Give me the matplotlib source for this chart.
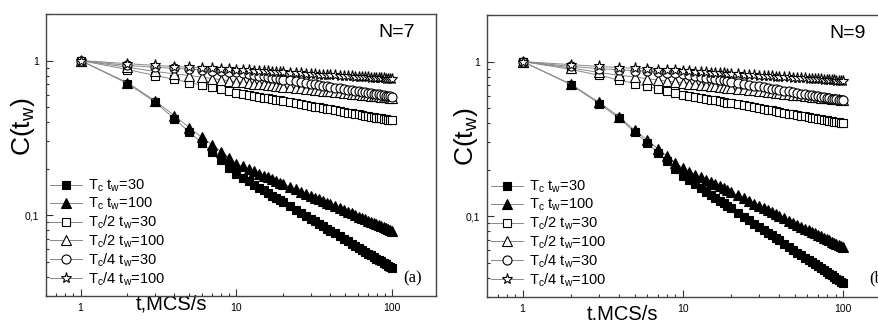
import matplotlib
matplotlib.use("Agg")
import matplotlib.pyplot as plt
from matplotlib.ticker import FixedLocator, FixedFormatter, LogLocator, NullFormatter

plt.rcParams['font.family'] = ['Liberation Sans', 'DejaVu Sans']
plt.rcParams['mathtext.default'] = 'regular'

# time points (MCS/s)
t = [1, 2, 3, 4, 5, 6, 7, 8, 9, 10, 11, 12, 13, 14, 15, 16, 17, 18, 19, 20,
     22, 24, 26, 28, 30, 32, 34, 36, 38, 40,
     43, 46, 49, 52, 55, 58, 61, 64, 67, 70, 73, 76, 79, 82, 85, 88, 91, 94, 97, 100]

# ---- N=7 ----
n7_tc_30 = [1, 0.71, 0.54, 0.42, 0.345, 0.293, 0.255, 0.226, 0.203, 0.185,
            0.1747, 0.1656, 0.1576, 0.1507, 0.1445, 0.1389, 0.1339, 0.1293, 0.1250, 0.1212,
            0.1144, 0.1085, 0.1032, 0.0987, 0.0947, 0.0910, 0.0877, 0.0847, 0.0819, 0.0794,
            0.0761, 0.0729, 0.0702, 0.0677, 0.0654, 0.0634, 0.0614, 0.0596, 0.0580, 0.0564,
            0.0550, 0.0537, 0.0524, 0.0513, 0.0502, 0.0491, 0.0481, 0.0472, 0.0462, 0.0454]
n7_tc_100 = [1, 0.72, 0.55, 0.44, 0.368, 0.318, 0.285, 0.258, 0.235, 0.215,
             0.2064, 0.1987, 0.1918, 0.1858, 0.1802, 0.1753, 0.1707, 0.1666, 0.1626, 0.1591,
             0.1527, 0.1469, 0.1419, 0.1374, 0.1333, 0.1297, 0.1264, 0.1232, 0.1202, 0.1176,
             0.1140, 0.1107, 0.1077, 0.1049, 0.1026, 0.1002, 0.0980, 0.0959, 0.0940, 0.0922,
             0.0905, 0.0890, 0.0875, 0.0860, 0.0847, 0.0836, 0.0823, 0.0811, 0.0800, 0.0789]
n7_tc2_30 = [1, 0.875, 0.80, 0.755, 0.72, 0.695, 0.672, 0.652, 0.635, 0.62,
             0.609, 0.600, 0.592, 0.584, 0.576, 0.570, 0.564, 0.558, 0.552, 0.547,
             0.538, 0.530, 0.522, 0.515, 0.509, 0.503, 0.497, 0.492, 0.487, 0.483,
             0.477, 0.471, 0.466, 0.461, 0.456, 0.452, 0.448, 0.444, 0.440, 0.437,
             0.434, 0.430, 0.427, 0.425, 0.422, 0.419, 0.417, 0.414, 0.412, 0.410]
n7_tc2_100 = [1, 0.905, 0.85, 0.82, 0.80, 0.78, 0.765, 0.752, 0.74, 0.73,
              0.723, 0.716, 0.710, 0.705, 0.700, 0.695, 0.691, 0.687, 0.683, 0.679,
              0.672, 0.666, 0.661, 0.656, 0.651, 0.647, 0.643, 0.639, 0.635, 0.632,
              0.628, 0.623, 0.619, 0.615, 0.611, 0.608, 0.605, 0.602, 0.599, 0.596,
              0.594, 0.591, 0.589, 0.586, 0.584, 0.582, 0.580, 0.578, 0.576, 0.575]
n7_tc4_30 = [1, 0.93, 0.905, 0.89, 0.88, 0.87, 0.862, 0.855, 0.848, 0.842,
             0.829, 0.818, 0.808, 0.798, 0.790, 0.782, 0.775, 0.767, 0.761, 0.754,
             0.744, 0.733, 0.724, 0.716, 0.708, 0.701, 0.694, 0.688, 0.682, 0.676,
             0.669, 0.662, 0.655, 0.649, 0.643, 0.638, 0.633, 0.628, 0.624, 0.619,
             0.615, 0.611, 0.607, 0.604, 0.600, 0.597, 0.594, 0.591, 0.588, 0.585]
n7_tc4_100 = [1, 0.955, 0.93, 0.915, 0.905, 0.897, 0.89, 0.884, 0.879, 0.875,
              0.870, 0.865, 0.861, 0.857, 0.854, 0.850, 0.847, 0.844, 0.841, 0.839,
              0.834, 0.829, 0.825, 0.822, 0.818, 0.815, 0.812, 0.809, 0.807, 0.804,
              0.801, 0.797, 0.794, 0.791, 0.789, 0.786, 0.784, 0.781, 0.779, 0.777,
              0.775, 0.773, 0.771, 0.770, 0.768, 0.766, 0.765, 0.763, 0.762, 0.760]

# ---- N=9 ----
n9_tc_30 = [1, 0.71, 0.535, 0.43, 0.35, 0.297, 0.258, 0.228, 0.203, 0.182,
            0.1706, 0.1605, 0.1518, 0.1442, 0.1375, 0.1315, 0.1261, 0.1212, 0.1167, 0.1127,
            0.1055, 0.0993, 0.0939, 0.0893, 0.0851, 0.0814, 0.0781, 0.0750, 0.0722, 0.0698,
            0.0664, 0.0633, 0.0606, 0.0582, 0.0560, 0.0539, 0.0521, 0.0504, 0.0488, 0.0474,
            0.0460, 0.0447, 0.0435, 0.0424, 0.0414, 0.0405, 0.0395, 0.0386, 0.0377, 0.0370]
n9_tc_100 = [1, 0.715, 0.545, 0.44, 0.36, 0.31, 0.272, 0.244, 0.222, 0.204,
             0.1944, 0.1859, 0.1785, 0.1718, 0.1659, 0.1606, 0.1557, 0.1512, 0.1470, 0.1433,
             0.1365, 0.1305, 0.1253, 0.1207, 0.1165, 0.1128, 0.1094, 0.1062, 0.1032, 0.1006,
             0.0970, 0.0937, 0.0907, 0.0880, 0.0855, 0.0832, 0.0811, 0.0792, 0.0773, 0.0757,
             0.0741, 0.0725, 0.0710, 0.0697, 0.0685, 0.0673, 0.0661, 0.0651, 0.0640, 0.0630]
n9_tc2_30 = [1, 0.89, 0.815, 0.76, 0.72, 0.69, 0.665, 0.645, 0.628, 0.612,
             0.601, 0.592, 0.583, 0.575, 0.568, 0.561, 0.555, 0.549, 0.543, 0.538,
             0.529, 0.521, 0.513, 0.506, 0.500, 0.494, 0.488, 0.483, 0.478, 0.474,
             0.467, 0.461, 0.456, 0.451, 0.447, 0.442, 0.438, 0.434, 0.430, 0.427,
             0.424, 0.420, 0.417, 0.415, 0.412, 0.409, 0.407, 0.405, 0.402, 0.400]
n9_tc2_100 = [1, 0.91, 0.85, 0.815, 0.795, 0.775, 0.76, 0.748, 0.737, 0.728,
              0.721, 0.714, 0.707, 0.702, 0.696, 0.691, 0.687, 0.682, 0.678, 0.675,
              0.668, 0.661, 0.655, 0.650, 0.645, 0.641, 0.636, 0.632, 0.629, 0.625,
              0.620, 0.616, 0.612, 0.607, 0.604, 0.600, 0.597, 0.594, 0.590, 0.588,
              0.585, 0.582, 0.580, 0.578, 0.575, 0.573, 0.571, 0.569, 0.567, 0.565]
n9_tc4_30 = [1, 0.93, 0.90, 0.885, 0.873, 0.864, 0.856, 0.848, 0.842, 0.836,
             0.822, 0.810, 0.798, 0.788, 0.779, 0.771, 0.762, 0.755, 0.748, 0.741,
             0.729, 0.718, 0.708, 0.699, 0.691, 0.683, 0.676, 0.669, 0.663, 0.657,
             0.649, 0.641, 0.634, 0.627, 0.621, 0.616, 0.610, 0.605, 0.600, 0.596,
             0.592, 0.588, 0.584, 0.580, 0.576, 0.573, 0.569, 0.566, 0.563, 0.560]
n9_tc4_100 = [1, 0.955, 0.93, 0.915, 0.904, 0.895, 0.888, 0.882, 0.877, 0.872,
              0.867, 0.862, 0.857, 0.853, 0.849, 0.846, 0.842, 0.839, 0.836, 0.833,
              0.828, 0.823, 0.819, 0.815, 0.812, 0.808, 0.805, 0.802, 0.799, 0.796,
              0.793, 0.789, 0.786, 0.783, 0.780, 0.777, 0.775, 0.772, 0.770, 0.768,
              0.766, 0.764, 0.762, 0.760, 0.758, 0.756, 0.754, 0.753, 0.751, 0.750]

labels = [r'T$_c$ t$_w$=30', r'T$_c$ t$_w$=100', r'T$_c$/2 t$_w$=30',
          r'T$_c$/2 t$_w$=100', r'T$_c$/4 t$_w$=30', r'T$_c$/4 t$_w$=100']
markers = ['s', '^', 's', '^', 'o', '*']
faces = ['black', 'black', 'white', 'white', 'white', 'white']
msizes = [6, 7, 6, 7, 6.5, 8]

panels = [
    ("N=7", "(a)", [n7_tc_30, n7_tc_100, n7_tc2_30, n7_tc2_100, n7_tc4_30, n7_tc4_100]),
    ("N=9", "(b)", [n9_tc_30, n9_tc_100, n9_tc2_30, n9_tc2_100, n9_tc4_30, n9_tc4_100]),
]

fig = plt.figure(figsize=(8.79, 3.2), dpi=100)
rects = [[46 / 879, 24 / 320, 390 / 879, 282 / 320],
         [487 / 879, 23 / 320, 401 / 879, 282 / 320]]
xlab_pos = [(0.323, 0.004), (0.339, -0.028)]
ylab_pos = [(-0.022, 0.60), (-0.017, 0.567)]
tag_pos = [(0.941, 0.064, 'center'), (0.952, 0.067, 'left')]

for k, (title, tag, series) in enumerate(panels):
    ax = fig.add_axes(rects[k])
    for y, lab, m, fc, ms in zip(series, labels, markers, faces, msizes):
        ax.plot(t, y, color='#888888', lw=0.7, marker=m, ms=ms, mfc=fc,
                mec='black', mew=0.8, label=lab)
    ax.set_xscale('log')
    ax.set_yscale('log')
    ax.set_xlim(0.6, 191)
    ax.set_ylim(0.03, 2.0)

    ax.xaxis.set_major_locator(FixedLocator([1, 10, 100]))
    ax.xaxis.set_major_formatter(FixedFormatter(['1', '10', '100']))
    ax.xaxis.set_minor_locator(LogLocator(base=10, subs=range(2, 10)))
    ax.xaxis.set_minor_formatter(NullFormatter())
    ax.yaxis.set_major_locator(FixedLocator([0.1, 1]))
    ax.yaxis.set_major_formatter(FixedFormatter(['0,1', '1']))
    ax.yaxis.set_minor_locator(LogLocator(base=10, subs=range(2, 10)))
    ax.yaxis.set_minor_formatter(NullFormatter())
    ax.tick_params(which='both', direction='in', top=False, right=False,
                   labelsize=7.5, color='#333333', width=0.8)
    ax.tick_params(which='major', length=5, pad=5)
    ax.tick_params(which='minor', length=2.5)
    for sp in ax.spines.values():
        sp.set_color('#444444')
        sp.set_linewidth(1.0)

    ax.set_xlabel('t,MCS/s', fontsize=14.5)
    ax.xaxis.set_label_coords(*xlab_pos[k])
    ax.set_ylabel(r'C(t$_w$)', fontsize=19)
    ax.yaxis.set_label_coords(*ylab_pos[k])

    ax.text(0.90, 0.936, title, transform=ax.transAxes, fontsize=14,
            ha='center', va='center')
    ax.text(tag_pos[k][0], tag_pos[k][1], tag, transform=ax.transAxes,
            fontsize=12, ha=tag_pos[k][2], va='center',
            family=['Liberation Serif', 'DejaVu Serif'])

    ax.legend(loc='lower left', bbox_to_anchor=(0, 0.014), frameon=False,
              fontsize=10.5, numpoints=1, handlelength=2.2, handletextpad=0.4,
              labelspacing=0.1, borderpad=0.1, borderaxespad=0.2)

fig.savefig('out.png', dpi=100)
